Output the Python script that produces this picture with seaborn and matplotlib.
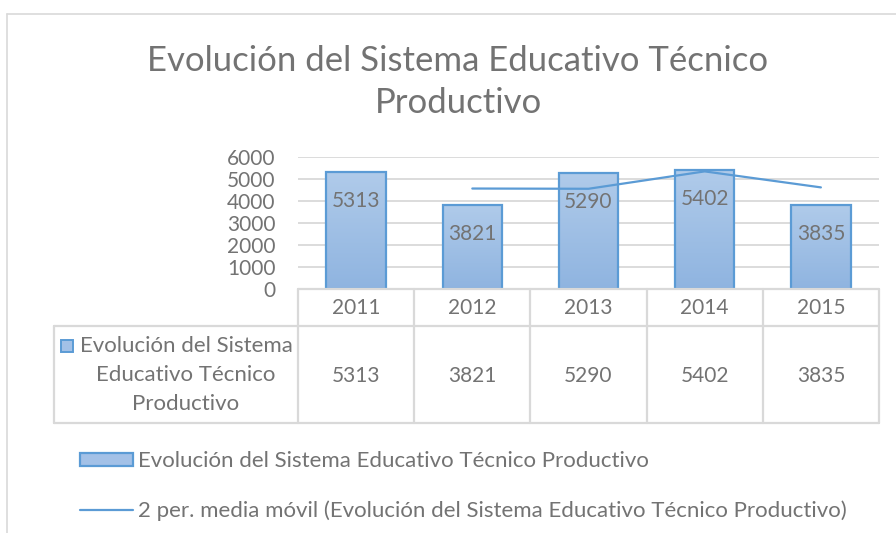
import numpy as np
import pandas as pd
import seaborn as sns
import matplotlib.pyplot as plt
from matplotlib.colors import LinearSegmentedColormap
from matplotlib.patches import Patch, Rectangle
from matplotlib.lines import Line2D

years = ["2011", "2012", "2013", "2014", "2015"]
alumnos = [5313, 3821, 5290, 5402, 3835]
serie = "Evolución del Sistema Educativo Técnico Productivo"
titulo = "Evolución del Sistema Educativo Técnico\nProductivo"
yticks = [0, 1000, 2000, 3000, 4000, 5000, 6000]

df = pd.DataFrame({"year": years, "value": alumnos})
df["pos"] = np.arange(len(df))
# media movil de 2 periodos, igual que la linea de tendencia de Excel
df["ma"] = df["value"].rolling(2).mean()

TXT = "#737373"
GRID = "#d9d9d9"
BLUE = "#5b9bd5"
FILL = "#a3c1e7"
NUM = 15      # numeros
WORDS = 16    # textos

sns.set_style("white")
plt.rcParams["font.family"] = ["Lato", "DejaVu Sans"]

W, H = 896, 533
fig = plt.figure(figsize=(W / 100, H / 100), dpi=100)


def px_axes(x0, y0, x1, y1):
    return fig.add_axes([x0 / W, 1 - y1 / H, (x1 - x0) / W, (y1 - y0) / H])


# outer chart frame (cropped on right and bottom)
fig.add_artist(Line2D([7 / W, 7 / W], [0, 1 - 14 / H], color=GRID, lw=1.2))
fig.add_artist(Line2D([7 / W, 1], [1 - 14 / H, 1 - 14 / H], color=GRID, lw=1.2))

fig.text(458 / W, 1 - 82 / H, titulo, ha="center", va="center", fontsize=25,
         color=TXT, linespacing=1.42)

# --- bars ---
ax = px_axes(298, 157, 879, 289)
sns.barplot(data=df, x="pos", y="value", ax=ax, width=0.51, color=FILL,
            edgecolor=BLUE, linewidth=1.6, zorder=2)
grad = np.linspace(0, 1, 256).reshape(-1, 1)
cmap = LinearSegmentedColormap.from_list("g", ["#8fb4e0", "#b0cbea"])
for p in ax.patches:
    x0, y0 = p.get_x(), p.get_y()
    im = ax.imshow(grad, extent=(x0, x0 + p.get_width(), y0, y0 + p.get_height()),
                   cmap=cmap, origin="lower", aspect="auto", zorder=2.5)
    im.set_clip_path(p)
    p.set_facecolor("none")
    p.set_zorder(3)

sns.lineplot(data=df, x="pos", y="ma", ax=ax, color=BLUE, lw=1.6, zorder=4)

for i, v in enumerate(alumnos):
    ax.annotate(str(v), (i, v), xytext=(0, -21), textcoords="offset points",
                ha="center", va="center", fontsize=NUM, color=TXT, zorder=5)

ax.set_xlim(-0.5, 4.5)
ax.set_ylim(0, 6000)
ax.set_yticks(yticks)
ax.set_yticklabels([str(t) for t in yticks])
ax.tick_params(axis="y", length=0, pad=16, labelsize=NUM, labelcolor=TXT)
ax.set_xticks([])
ax.set_xlabel("")
ax.set_ylabel("")
ax.grid(axis="y", color=GRID, lw=1.3, zorder=0)
ax.set_axisbelow(True)
for s in ax.spines.values():
    s.set_visible(False)

# --- data table ---
unit = (879 - 298) / len(years)
left = -0.5 - (298 - 54) / unit
tb = px_axes(54, 289, 879, 423)
tb.set_xlim(left, len(years) - 0.5)
tb.set_ylim(134, 0)
tb.axis("off")
kw = dict(color=GRID, lw=1.6, clip_on=False)
tb.plot([-0.5, 4.5], [0, 0], **kw)
tb.plot([left, 4.5], [37, 37], **kw)
tb.plot([left, 4.5], [134, 134], **kw)
tb.plot([left, left], [37, 134], **kw)
for k in range(len(years) + 1):
    tb.plot([k - 0.5, k - 0.5], [0, 134], **kw)
for i, (yr, v) in enumerate(zip(years, alumnos)):
    tb.text(i, 19, yr, ha="center", va="center", fontsize=NUM, color=TXT)
    tb.text(i, 87, str(v), ha="center", va="center", fontsize=NUM, color=TXT)

fig.text(186 / W, 1 - 375 / H, "Evolución del Sistema\nEducativo Técnico\nProductivo",
         ha="center", va="center", multialignment="center", fontsize=WORDS,
         color=TXT, linespacing=1.55)
fig.add_artist(Rectangle((61 / W, 1 - 352 / H), 12 / W, 12 / H,
                         facecolor=FILL, edgecolor=BLUE, lw=1.4))

# --- legend ---
handles = [Patch(facecolor=FILL, edgecolor=BLUE, lw=1.6),
           Line2D([], [], color=BLUE, lw=1.6)]
labels = [serie, "2 per. media móvil (" + serie + ")"]
fig.legend(handles, labels, loc="center left", bbox_to_anchor=(80 / W, 1 - 486 / H),
           frameon=False, fontsize=WORDS, labelcolor=TXT, handlelength=2.4,
           handleheight=0.5, handletextpad=0.2, labelspacing=1.3,
           borderpad=0, borderaxespad=0)

fig.savefig("out.png", dpi=100)
